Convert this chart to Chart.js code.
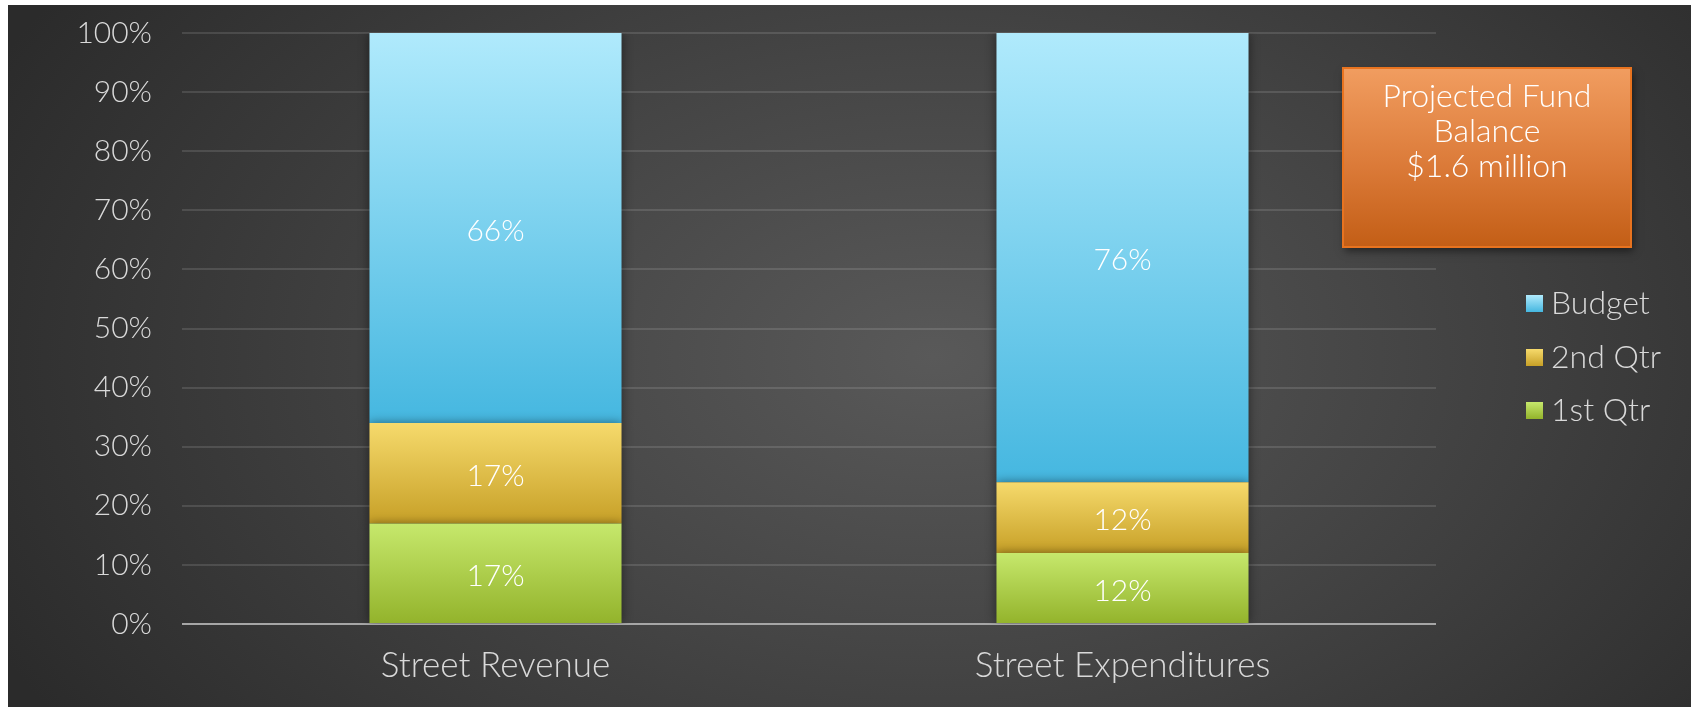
<!DOCTYPE html>
<html>
<head>
<meta charset="utf-8">
<script src="https://cdn.jsdelivr.net/npm/chart.js@4/dist/chart.umd.min.js"></script>
<style>
  html, body { margin: 0; padding: 0; background: #ffffff; width: 1691px; height: 707px; overflow: hidden; }
  #bg { position: absolute; left: 8px; top: 5px; width: 1683px; height: 702px;
        background: radial-gradient(ellipse 62% 95% at 55% 50%, #595959 0%, #454545 45%, #2b2b2b 100%); }
  #wrap { position: absolute; left: 0; top: 0; width: 1691px; height: 707px; }
</style>
</head>
<body>
<div id="bg"></div>
<div id="wrap"><canvas id="c" width="1691" height="707"></canvas></div>
<script>
const categories = ['Street Revenue', 'Street Expenditures'];
const firstQtr = [17, 12];
const secondQtr = [17, 12];
const budget = [66, 76];
const seriesNames = ['1st Qtr', '2nd Qtr', 'Budget'];
const yTickValues = [0, 10, 20, 30, 40, 50, 60, 70, 80, 90, 100];

const FONT = "Lato, 'Open Sans', sans-serif";
const palettes = {
  '1st Qtr': ['#c6e86c', '#93b32b'],
  '2nd Qtr': ['#f6da6c', '#c7a027'],
  'Budget':  ['#b0eafc', '#45b7e0']
};
const seriesData = [firstQtr, secondQtr, budget];

function segGradient(ctx, dsIndex, i) {
  const chart = ctx.chart;
  const y = chart.scales && chart.scales.y;
  const name = seriesNames[dsIndex];
  const cols = palettes[name];
  if (!y || !chart.chartArea) return cols[1];
  let base = 0;
  for (let k = 0; k < dsIndex; k++) base += seriesData[k][i];
  const top = base + seriesData[dsIndex][i];
  const yTop = y.getPixelForValue(top);
  const yBot = y.getPixelForValue(base);
  const g = chart.ctx.createLinearGradient(0, yTop, 0, yBot);
  g.addColorStop(0, cols[0]);
  g.addColorStop(1, cols[1]);
  return g;
}

const shadowPlugin = {
  id: 'shadowPlugin',
  beforeDatasetsDraw(chart) {
    const c = chart.ctx;
    c.save();
    c.shadowColor = 'rgba(0,0,0,0.45)';
    c.shadowBlur = 10;
  },
  afterDatasetsDraw(chart) {
    chart.ctx.restore();
  }
};

const labelPlugin = {
  id: 'labelPlugin',
  afterDatasetsDraw(chart) {
    const c = chart.ctx;
    c.save();
    c.fillStyle = '#ffffff';
    c.font = '300 30px ' + FONT;
    c.textAlign = 'center';
    c.textBaseline = 'middle';
    chart.data.datasets.forEach((ds, di) => {
      const meta = chart.getDatasetMeta(di);
      meta.data.forEach((el, i) => {
        const cy = (el.y + el.base) / 2 + 3;
        c.fillText(ds.data[i] + '%', el.x, cy);
      });
    });
    c.restore();
  }
};

const extrasPlugin = {
  id: 'extrasPlugin',
  afterDraw(chart) {
    const c = chart.ctx;
    const legendOrder = [2, 1, 0];
    const ys = [303, 357, 410];
    c.save();
    legendOrder.forEach((di, k) => {
      const name = chart.data.datasets[di].label;
      const cols = palettes[name];
      const cy = ys[k];
      const g = c.createLinearGradient(0, cy - 8, 0, cy + 9);
      g.addColorStop(0, cols[0]);
      g.addColorStop(1, cols[1]);
      c.fillStyle = g;
      c.fillRect(1526, cy - 8, 17, 17);
      c.fillStyle = '#d9d9d9';
      c.font = '300 32px ' + FONT;
      c.textAlign = 'left';
      c.textBaseline = 'middle';
      c.fillText(name, 1551, cy + 1);
    });
    c.restore();

    c.save();
    const bx = 1343, by = 68, bw = 288, bh = 179;
    c.shadowColor = 'rgba(0,0,0,0.5)';
    c.shadowBlur = 8;
    c.shadowOffsetX = 2;
    c.shadowOffsetY = 4;
    const bg = c.createLinearGradient(0, by, 0, by + bh);
    bg.addColorStop(0, '#f19d60');
    bg.addColorStop(0.55, '#db7a38');
    bg.addColorStop(1, '#c35e16');
    c.fillStyle = bg;
    c.fillRect(bx, by, bw, bh);
    c.shadowColor = 'transparent';
    c.strokeStyle = '#e8731f';
    c.lineWidth = 2;
    c.strokeRect(bx, by, bw, bh);
    c.fillStyle = '#ffffff';
    c.font = '300 32px ' + FONT;
    c.textAlign = 'center';
    c.textBaseline = 'middle';
    const lines = ['Projected Fund', 'Balance', '$1.6 million'];
    lines.forEach((t, i) => c.fillText(t, bx + bw / 2, 97 + i * 35));
    c.restore();
  }
};

new Chart(document.getElementById('c'), {
  type: 'bar',
  data: {
    labels: categories,
    datasets: seriesData.map((arr, di) => ({
      label: seriesNames[di],
      data: arr,
      backgroundColor: (ctx) => segGradient(ctx, di, ctx.dataIndex),
      borderWidth: 0,
      categoryPercentage: 1.0,
      barPercentage: 0.402
    }))
  },
  options: {
    responsive: false,
    animation: false,
    devicePixelRatio: 1,
    layout: { padding: { left: 0, right: 255, top: 33, bottom: 0 } },
    plugins: {
      legend: { display: false },
      tooltip: { enabled: false }
    },
    scales: {
      x: {
        stacked: true,
        grid: { display: false, drawTicks: false },
        border: { display: false },
        ticks: { color: '#d9d9d9', font: { family: FONT, size: 35, weight: 300 }, padding: 21 },
        afterFit(scale) { scale.height = 83; scale.paddingLeft = 0; scale.paddingRight = 0; }
      },
      y: {
        stacked: true,
        min: 0,
        max: 100,
        afterBuildTicks(scale) { scale.ticks = yTickValues.map(v => ({ value: v })); },
        ticks: {
          color: '#d9d9d9',
          font: { family: FONT, size: 30, weight: 300 },
          padding: 30,
          callback: (v) => v + '%'
        },
        grid: {
          drawTicks: false,
          lineWidth: 2,
          color: (ctx) => (ctx.tick && ctx.tick.value === 0) ? '#a6a6a6' : 'rgba(255,255,255,0.12)'
        },
        border: { display: false },
        afterFit(scale) { scale.width = 182; scale.paddingTop = 0; scale.paddingBottom = 0; }
      }
    }
  },
  plugins: [shadowPlugin, labelPlugin, extrasPlugin]
});
</script>
</body>
</html>
